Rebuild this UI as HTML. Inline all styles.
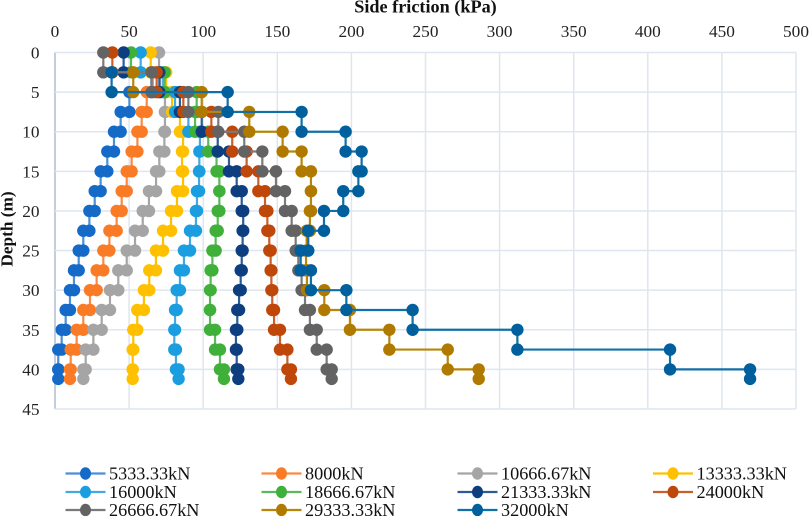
<!DOCTYPE html>
<html lang="en">
<head>
<meta charset="utf-8">
<title>Side friction vs depth</title>
<style>
html,body{margin:0;padding:0;background:#fff;}
svg{display:block;font-family:"Liberation Serif",serif;}
</style>
</head>
<body>
<svg id="chart" width="809" height="516" viewBox="0 0 809 516" xmlns="http://www.w3.org/2000/svg">
  <text x="425.5" y="12.5" text-anchor="middle" font-size="18.2" font-weight="bold" fill="#111">Side friction (kPa)</text>
  <text transform="translate(12.5,229) rotate(-90)" text-anchor="middle" font-size="17.3" font-weight="bold" fill="#111">Depth (m)</text>
  <g id="grid"></g>
  <g id="ticks"></g>
  <g id="series"></g>
  <g id="legend"></g>
</svg>
<script>
var xTickLabels = [0, 50, 100, 150, 200, 250, 300, 350, 400, 450, 500];
var yTickLabels = [0, 5, 10, 15, 20, 25, 30, 35, 40, 45];
var layerDepths = [0, 2.5, 5, 7.5, 10, 12.5, 15, 17.5, 20, 22.5, 25, 27.5, 30, 32.5, 35, 37.5, 40, 41.2];
var seriesNames = ["5333.33kN", "8000kN", "10666.67kN", "13333.33kN", "16000kN", "18666.67kN", "21333.33kN", "24000kN", "26666.67kN", "29333.33kN", "32000kN"];

// Side friction (kPa) per depth layer; null = not reported for that layer
var friction5333 = [null, 65, 50.2, 44.3, 39.8, 35.3, 30.8, 26.8, 23.2, 19.1, 16, 12.8, 10.1, 7.2, 4.5, 2.2, 2.2];
var friction8000 = [null, 66, 61.9, 58.5, 55.6, 51.7, 48.4, 45, 41.6, 36.7, 32.6, 28.1, 23.6, 19.1, 14.6, 10.6, 10.1];
var friction10667 = [70.2, 71, 74.2, 74.2, 73.8, 70.4, 68.2, 63.4, 59.2, 54, 48.4, 42.7, 37.1, 31.5, 25.9, 20.7, 19.1];
var friction13333 = [64.6, 75, 79, 84.3, 86.4, 85.7, 86.4, 82.3, 78.3, 72.9, 68.1, 63.6, 60, 55.5, 52.8, 52.4, 52.4];
var friction16000 = [57.8, 73, 81, 90, 97.8, 97.4, 97.2, 95.8, 95.1, 91.1, 87, 84.3, 82.1, 81, 80.5, 81.6, 83.4];
var friction18667 = [51.3, 74, 95.6, 94.5, 103.4, 109, 110.9, 110.9, 109.8, 108.4, 106.2, 105, 104.6, 104.6, 108, 111.3, 114];
var friction21333 = [46.3, 70.4, 84.3, 99, 109.8, 117.4, 122.6, 126, 127, 126.6, 126, 125.3, 124.2, 123, 122.1, 122.6, 123.7];
var friction24000 = [38.7, 68.6, 86.6, 105.5, 119.6, 129.3, 137.2, 141.7, 143.3, 144.6, 145.5, 146, 146.6, 147.8, 151.8, 156.8, 159.2];
var friction26667 = [32.6, 65.2, 90, 110.2, 127.7, 139.9, 149.1, 155.2, 159.7, 162.4, 164.2, 166.4, 168.7, 172, 176.6, 183.3, 186.7];
var friction29333 = [null, 52.8, 99, 131.1, 153.6, 166.4, 172.7, 172.7, 172, 169.8, 169.4, 170, 181.7, 199, 225.6, 265, 285.9];
var friction32000 = [null, 38.2, 116.5, 166.4, 196.1, 206.9, 204.7, 194.5, 181.5, 170.9, 165.8, 172.7, 196.6, 241.3, 312, 415, 469];

var seriesValues = [friction5333, friction8000, friction10667, friction13333, friction16000, friction18667, friction21333, friction24000, friction26667, friction29333, friction32000];
var markerColors = ["#1569c7", "#f97b26", "#a5a5a5", "#ffc000", "#1a9ee0", "#3fb03a", "#0d3f80", "#c0470a", "#636363", "#b07a00", "#00609e"];
var lineColors = ["#4a8fd8", "#f98a45", "#a5a5a5", "#ffc000", "#45a8e0", "#5cb85c", "#2a5c96", "#c8602c", "#7a7a7a", "#b8860b", "#1070a8"];

var NS = "http://www.w3.org/2000/svg";
var plotLeft = 55, plotRight = 796, plotTop = 52.5, plotBottom = 409;
function xScale(v) { return plotLeft + (v / 500) * (plotRight - plotLeft); }
function yScale(d) { return plotTop + (d / 45) * (plotBottom - plotTop); }
function make(tag, attrs, parent) {
  var el = document.createElementNS(NS, tag);
  for (var k in attrs) { el.setAttribute(k, attrs[k]); }
  parent.appendChild(el);
  return el;
}

var grid = document.getElementById("grid");
var ticks = document.getElementById("ticks");
xTickLabels.forEach(function (t) {
  var line = make("line", { x1: xScale(t), x2: xScale(t), y1: plotTop, y2: plotBottom, stroke: t === 0 ? "#c3cedc" : "#dfe6ef", "stroke-width": t === 0 ? 2 : 1.5 }, grid);
  
  
  var label = make("text", { x: xScale(t), y: 37, "text-anchor": "middle", "font-size": 17.3, fill: "#222" }, ticks);
  label.textContent = t;
  
  
});
yTickLabels.forEach(function (t) {
  var line = make("line", { x1: plotLeft, x2: plotRight, y1: yScale(t), y2: yScale(t), stroke: "#dfe6ef", "stroke-width": 1.5 }, grid);
  
  
  var label = make("text", { x: 39.5, y: yScale(t) + 6, "text-anchor": "end", "font-size": 17.3, fill: "#222" }, ticks);
  label.textContent = t;
  
  
});

var seriesGroup = document.getElementById("series");
seriesValues.forEach(function (values, s) {
  var g = make("g", {}, seriesGroup);
  
  
  var pts = [];
  values.forEach(function (v, i) {
    if (v === null) { return; }
    pts.push([xScale(v), yScale(layerDepths[i])]);
    pts.push([xScale(v), yScale(layerDepths[i + 1])]);
  });
  var line = make("polyline", { points: pts.map(function (p) { return p.join(","); }).join(" "), fill: "none", stroke: lineColors[s], "stroke-width": 2.2 }, g);
  
  
  pts.forEach(function (p) {
    var dot = make("circle", { cx: p[0], cy: p[1], r: 6.2, fill: markerColors[s] }, g);
    
    
  });
});

var legendGroup = document.getElementById("legend");
var legendColumnX = [65.5, 261.5, 457.5, 653];
var legendRowY = [473.5, 492, 510];
seriesNames.forEach(function (name, s) {
  var cx = legendColumnX[s % 4], cy = legendRowY[Math.floor(s / 4)];
  var g = make("g", {}, legendGroup);
  
  
  make("line", { x1: cx, x2: cx + 40, y1: cy, y2: cy, stroke: lineColors[s], "stroke-width": 2.2 }, g);
  make("ellipse", { cx: cx + 20, cy: cy, rx: 5.5, ry: 6.2, fill: markerColors[s] }, g);
  var label = make("text", { x: cx + 43.5, y: cy + 6, "font-size": 18.2, fill: "#111" }, g);
  label.textContent = name;
  
  
});
</script>
</body>
</html>
